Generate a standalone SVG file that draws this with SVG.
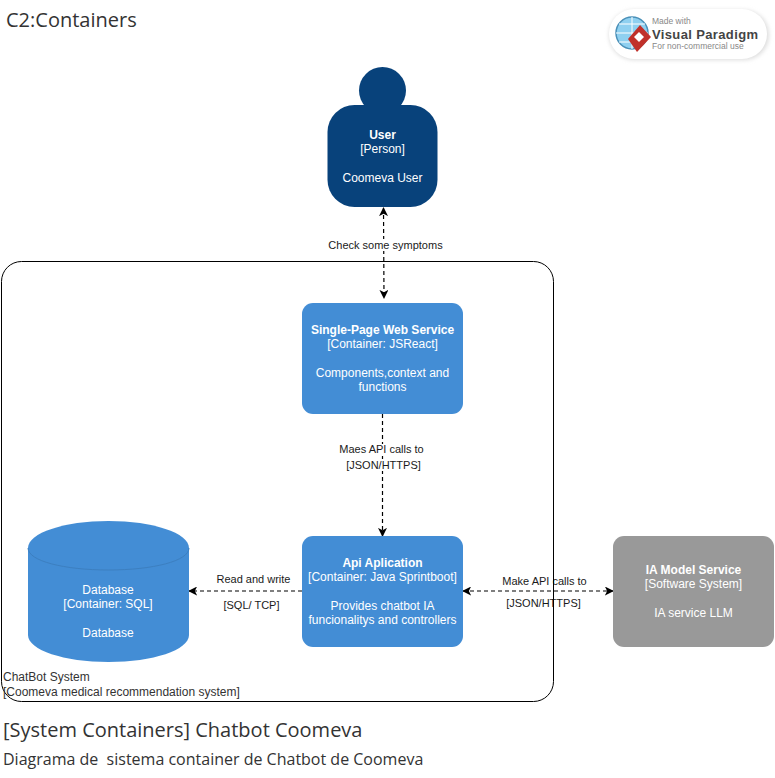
<svg xmlns="http://www.w3.org/2000/svg" width="775" height="778" viewBox="0 0 775 778">
<style>
text{font-family:"Liberation Sans",Arial,sans-serif}
.n{font-size:12px;fill:#fff;text-anchor:middle}
.b{font-weight:bold}
.l{font-size:11px;fill:#1a1a1a;text-anchor:middle}
.h{font-family:"Open Sans","Noto Sans",sans-serif;fill:#333}
.c{fill:none;stroke:#000;stroke-width:1.2;stroke-dasharray:4 3}
.w{fill:#fff}
</style>
<defs>
<marker id="a" viewBox="0 0 10 10" refX="9" refY="5" markerWidth="9" markerHeight="9" orient="auto-start-reverse" markerUnits="userSpaceOnUse"><path d="M0 0L10 5L0 10L2.5 5Z" fill="#000"/></marker>
<filter id="s" x="-10%" y="-20%" width="120%" height="140%"><feGaussianBlur stdDeviation="2"/></filter>
</defs>
<rect width="775" height="778" fill="#fff"/>
<text class="h" x="6" y="27" font-size="20">C2:Containers</text>
<g id="logo">
<rect x="609" y="10" width="160" height="50" rx="25" fill="#ddd" filter="url(#s)"/>
<rect x="609" y="9" width="158" height="50" rx="25" fill="#fff"/>
<circle cx="632" cy="33" r="16" fill="#8fd0f0" stroke="#4a90b8" stroke-width="1.5"/>
<path d="M616 33H648M632 17V49M619 24H645M619 42H645" stroke="#fff" fill="none"/>
<path d="M640 25L651 37L637 52L628 39Z" fill="#c0302a"/>
<path d="M639 32L644 37L639 42L634 37Z" fill="#fff"/>
<text x="652" y="24" font-size="8.500" fill="#888">Made with</text>
<text x="652" y="39" font-size="13" font-weight="bold" fill="#444" textLength="106">Visual Paradigm</text>
<text x="652" y="49" font-size="8.500" fill="#888">For non-commercial use</text>
</g>
<g id="connectors">
<path class="c" d="M383.500 208L384 298" marker-start="url(#a)" marker-end="url(#a)"/>
<path class="c" d="M382.500 414V536" marker-end="url(#a)"/>
<path class="c" d="M302 591H189" marker-end="url(#a)"/>
<path class="c" d="M463 591H613" marker-start="url(#a)" marker-end="url(#a)"/>
</g>
<g id="connector-labels">
<rect class="w" x="329" y="239" width="114" height="12"/>
<text class="l" x="385.500" y="249">Check some symptoms</text>
<rect class="w" x="339" y="444" width="85" height="11"/>
<rect class="w" x="346" y="459" width="75" height="12"/>
<text class="l" x="381.500" y="453">Maes API calls to</text>
<text class="l" x="383.500" y="469">[JSON/HTTPS]</text>
<text class="l" x="253.500" y="583">Read and write</text>
<text class="l" x="251.500" y="609">[SQL/ TCP]</text>
<text class="l" x="544.500" y="585">Make API calls to</text>
<text class="l" x="543.500" y="607">[JSON/HTTPS]</text>
</g>
<g id="boundary">
<rect x="1.500" y="261.500" width="552" height="440" rx="20" fill="none" stroke="#000"/>
<text x="3" y="681" font-size="12" fill="#333">ChatBot System</text>
<text x="3" y="696" font-size="12" fill="#333">[Coomeva medical recommendation system]</text>
</g>
<g id="user">
<circle cx="382.500" cy="90.500" r="23.500" fill="#08427b"/>
<rect x="327.500" y="105" width="110" height="102" rx="27" fill="#08427b"/>
<text class="n b" x="382.500" y="139">User</text>
<text class="n" x="382.500" y="153">[Person]</text>
<text class="n" x="382.500" y="182">Coomeva User</text>
</g>
<g id="web">
<rect x="302" y="303" width="161" height="111" rx="11" fill="#438dd5"/>
<text class="n b" x="382.500" y="334">Single-Page Web Service</text>
<text class="n" x="382.500" y="348">[Container: JSReact]</text>
<text class="n" x="382.500" y="377">Components,context and</text>
<text class="n" x="382.500" y="391">functions</text>
</g>
<g id="api">
<rect x="302" y="536" width="161" height="111" rx="11" fill="#438dd5"/>
<text class="n b" x="382.500" y="567">Api Aplication</text>
<text class="n" x="382.500" y="581">[Container: Java Sprintboot]</text>
<text class="n" x="382.500" y="610">Provides chatbot IA</text>
<text class="n" x="382.500" y="624">funcionalitys and controllers</text>
</g>
<g id="database">
<path d="M28 548C28 533 64 521 108.500 521S189 533 189 548V635C189 650 153 662 108.500 662S28 650 28 635Z" fill="#438dd5"/>
<path d="M28 548C28 561 64 570 108.500 570S189 561 189 548" fill="none" stroke="#3c7fc0"/>
<text class="n" x="108" y="594">Database</text>
<text class="n" x="108" y="608">[Container: SQL]</text>
<text class="n" x="108" y="637">Database</text>
</g>
<g id="ia-model">
<rect x="613" y="536" width="161" height="111" rx="11" fill="#999"/>
<text class="n b" x="693.500" y="574">IA Model Service</text>
<text class="n" x="693.500" y="588">[Software System]</text>
<text class="n" x="693.500" y="617">IA service LLM</text>
</g>
<text class="h" x="3" y="737" font-size="20">[System Containers] Chatbot Coomeva</text>
<text class="h" x="3" y="765" font-size="16" xml:space="preserve">Diagrama de  sistema container de Chatbot de Coomeva</text>
</svg>
